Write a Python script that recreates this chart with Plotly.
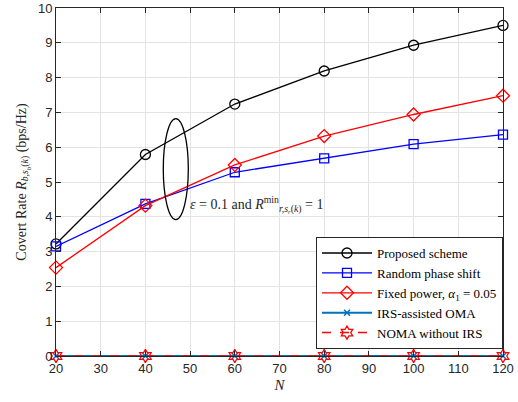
import plotly.graph_objects as go

N = [20, 40, 60, 80, 100, 120]
proposed = [3.22, 5.79, 7.24, 8.19, 8.93, 9.50]
random_phase = [3.15, 4.37, 5.28, 5.68, 6.09, 6.36]
fixed_power = [2.54, 4.32, 5.49, 6.32, 6.94, 7.48]
irs_oma = [0, 0, 0, 0, 0, 0]
noma_no_irs = [0, 0, 0, 0, 0, 0]

serif = "Liberation Serif"
sans = "Liberation Sans"

fig = go.Figure()
fig.add_trace(go.Scatter(x=N, y=proposed, name="Proposed scheme", mode="lines+markers",
                         line=dict(color="black", width=1.3),
                         marker=dict(symbol="circle-open", size=10, color="black", line=dict(width=1.3)),
                         cliponaxis=False))
fig.add_trace(go.Scatter(x=N, y=random_phase, name="Random phase shift", mode="lines+markers",
                         line=dict(color="#0000ff", width=1.3),
                         marker=dict(symbol="square-open", size=9, color="#0000ff", line=dict(width=1.3)),
                         cliponaxis=False))
fig.add_trace(go.Scatter(x=N, y=fixed_power, name="Fixed power, <i>α</i><sub>1</sub> = 0.05", mode="lines+markers",
                         line=dict(color="#ff0000", width=1.3),
                         marker=dict(symbol="diamond-open", size=10, color="#ff0000", line=dict(width=1.3)),
                         cliponaxis=False))
fig.add_trace(go.Scatter(x=N, y=irs_oma, name="IRS-assisted OMA", mode="lines+markers",
                         line=dict(color="#0072BD", width=2),
                         marker=dict(symbol="x-thin-open", size=6, color="#0072BD", line=dict(width=1.5)),
                         cliponaxis=False))
fig.add_trace(go.Scatter(x=N, y=noma_no_irs, name="NOMA without IRS", mode="lines+markers",
                         line=dict(color="#ff0000", width=1.5, dash="dash"),
                         marker=dict(symbol="hexagram-open", size=10, color="#ff0000", line=dict(width=1.3)),
                         cliponaxis=False))

fig.add_shape(type="circle", xref="x", yref="y", x0=44.0, x1=49.6, y0=3.92, y1=6.82,
              line=dict(color="black", width=1.3))
fig.add_annotation(x=49.5, y=4.35, xref="x", yref="y", xanchor="left", yanchor="middle", showarrow=False,
                   text="<i>ε</i> = 0.1 and <i>R</i><sup>min</sup><sub><i>r,s<sub>r</sub></i>(<i>k</i>)</sub> = 1",
                   font=dict(family=serif, size=14, color="#262626"))

axis_common = dict(showline=True, linecolor="#262626", linewidth=1, mirror="ticks",
                   ticks="inside", ticklen=5, tickcolor="#262626",
                   showgrid=True, gridcolor="#e3e3e3", gridwidth=1, zeroline=False,
                   ticklabeloverflow="allow", automargin=False,
                   tickfont=dict(family=sans, size=13, color="#262626"))

fig.update_xaxes(range=[20, 120], tickvals=list(range(20, 121, 10)),
                 title=dict(text="<i>N</i>", font=dict(family=serif, size=15, color="#262626"), standoff=4),
                 **axis_common)
fig.update_yaxes(range=[0, 10], tickvals=list(range(0, 11)),
                 title=dict(text="Covert Rate <i>R</i><sub><i>b,s<sub>b</sub></i>(<i>k</i>)</sub> (bps/Hz)",
                            font=dict(family=serif, size=14, color="#262626"), standoff=8),
                 **axis_common)

fig.update_layout(width=518, height=402, margin=dict(l=56, r=15, t=8, b=46),
                  plot_bgcolor="white", paper_bgcolor="white",
                  legend=dict(x=1, y=0.02, xanchor="right", yanchor="bottom",
                              bgcolor="white", bordercolor="#262626", borderwidth=1,
                              font=dict(family=serif, size=13, color="black"),
                              tracegroupgap=0, itemwidth=50),
                  showlegend=True)

fig.write_html("out.html")
